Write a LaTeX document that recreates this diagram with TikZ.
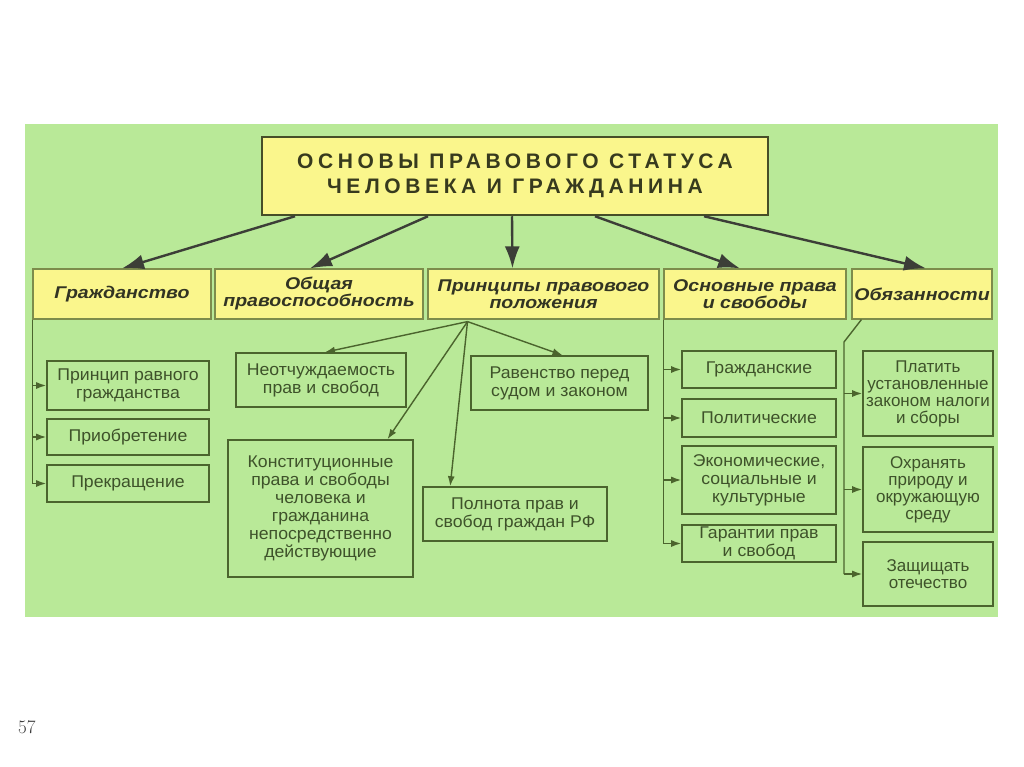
\documentclass[tikz,border=0pt]{standalone}
\usepackage{fontspec}
\setsansfont{Liberation Sans}
\newfontfamily\titlefont[LetterSpace=22]{Liberation Sans}
\newfontfamily\headfont[FakeStretch=1.15]{Liberation Sans}
\newfontfamily\itemfont[FakeStretch=1.04]{Liberation Sans}
\newfontfamily\dutyfont{Liberation Sans}
\usetikzlibrary{calc,arrows.meta}

\definecolor{bggreen}{RGB}{185,233,152}
\definecolor{boxyellow}{RGB}{250,246,140}
\definecolor{titleline}{RGB}{70,78,40}
\definecolor{titletext}{RGB}{55,58,30}
\definecolor{headline}{RGB}{125,140,75}
\definecolor{headtext}{RGB}{50,52,35}
\definecolor{itemline}{RGB}{75,100,45}
\definecolor{itemtext}{RGB}{62,82,42}
\definecolor{arrowdark}{RGB}{60,62,55}
\definecolor{pagegray}{RGB}{60,60,60}

\tikzset{
    titlebox/.style={draw=titleline, line width=2.5pt, fill=boxyellow, align=center, inner sep=0pt,
        text=titletext, font=\titlefont\bfseries\fontsize{21}{25}\selectfont},
    headbox/.style={draw=headline, line width=1.2pt, fill=boxyellow, align=center, inner sep=0pt,
        text=headtext, font=\headfont\bfseries\itshape\fontsize{17}{17}\selectfont},
    itembox/.style={draw=itemline, line width=1.6pt, align=center, inner sep=0pt,
        text=itemtext, font=\itemfont\fontsize{17}{18}\selectfont},
    dutybox/.style={itembox, font=\dutyfont\fontsize{17}{17}\selectfont},
    bigarrow/.style={draw=arrowdark, line width=2.4pt,
        -{Latex[length=22pt,width=15pt]}},
    smallline/.style={draw=itemline, line width=1.4pt},
    smallarrow/.style={smallline, -{Latex[length=10pt,width=7pt]}},
}

\begin{document}
\begin{tikzpicture}[x=1pt,y=-1pt]
    \fill[white] (0,0) rectangle (1024,767);
    \useasboundingbox (0,0) rectangle (1024,767);
    \fill[bggreen] (25,124) rectangle (998,617);

    % title
    \node[titlebox, minimum width=506pt, minimum height=78pt] (title) at (515,176)
        {ОСНОВЫ ПРАВОВОГО СТАТУСА\\ЧЕЛОВЕКА И ГРАЖДАНИНА};

    % second row
    \node[headbox, minimum width=178pt, minimum height=50pt] (grazh) at (122,294) {Гражданство};
    \node[headbox, minimum width=208pt, minimum height=50pt] (obsch) at (319,294) {Общая\\правоспособность};
    \node[headbox, minimum width=231pt, minimum height=50pt] (princ) at (543.5,294) {Принципы правового\\положения};
    \node[headbox, minimum width=182pt, minimum height=50pt] (osnov) at (755,294) {Основные права\\и свободы};
    \node[headbox, minimum width=140pt, minimum height=50pt] (obyaz) at (922,294) {Обязанности};

    \draw[bigarrow] ($(title.south)+(-220,0)$) -- (grazh.north);
    \draw[bigarrow] ($(title.south)+(-87,0)$) -- ($(obsch.north)+(-9,0)$);
    \draw[bigarrow] ($(title.south)+(-3,0)$) -- ($(princ.north)+(-31,0)$);
    \draw[bigarrow] ($(title.south)+(80,0)$) -- ($(osnov.north)+(-15,0)$);
    \draw[bigarrow] ($(title.south)+(189,0)$) -- ($(obyaz.north)+(4,0)$);

    % citizenship
    \node[itembox, minimum width=162pt, minimum height=49pt] (ravgr) at (128,385.5) {Принцип равного\\гражданства};
    \node[itembox, minimum width=162pt, minimum height=36pt] (priobr) at (128,437) {Приобретение};
    \node[itembox, minimum width=162pt, minimum height=37pt] (prekr) at (128,483.5) {Прекращение};

    \draw[smallline] (grazh.south west) -- (grazh.south west |- prekr.west);
    \foreach \n in {ravgr,priobr,prekr}
        \draw[smallarrow] (grazh.south west |- \n.west) -- (\n.west);

    % principles
    \node[itembox, minimum width=170pt, minimum height=54pt] (neot) at (321,380) {Неотчуждаемость\\прав и свобод};
    \node[itembox, minimum width=185pt, minimum height=137pt] (konst) at (320.5,508.5)
        {Конституционные\\права и свободы\\человека и\\гражданина\\непосредственно\\действующие};
    \node[itembox, minimum width=177pt, minimum height=54pt] (raven) at (559.5,383) {Равенство перед\\судом и законом};
    \node[itembox, minimum width=184pt, minimum height=54pt] (polnota) at (515,514) {Полнота прав и\\свобод граждан РФ};

    \coordinate (fan) at ($(princ.south)+(-76,2)$);
    \draw[smallarrow] (fan) -- ($(neot.north)+(4,0)$);
    \draw[smallarrow] (fan) -- ($(konst.north)+(67,0)$);
    \draw[smallarrow] (fan) -- ($(polnota.north west)+(28,0)$);
    \draw[smallarrow] (fan) -- ($(raven.north)+(3,0)$);

    % rights and freedoms
    \node[itembox, minimum width=154pt, minimum height=37pt] (civil) at (759,369.5) {Гражданские};
    \node[itembox, minimum width=154pt, minimum height=38pt] (polit) at (759,418) {Политические};
    \node[itembox, minimum width=154pt, minimum height=68pt] (ekon) at (759,480)
        {Экономические,\\социальные и\\культурные};
    \node[itembox, minimum width=154pt, minimum height=37pt] (garant) at (759,543.5) {Гарантии прав\\и свобод};

    \draw[smallline] (osnov.south west) -- (osnov.south west |- garant.west);
    \foreach \n in {civil,polit,ekon,garant}
        \draw[smallarrow] (osnov.south west |- \n.west) -- (\n.west);

    % duties
    \node[dutybox, minimum width=130pt, minimum height=85pt] (platit) at (928,393.5)
        {Платить\\установленные\\законом налоги\\и сборы};
    \node[dutybox, minimum width=130pt, minimum height=85pt] (ohran) at (928,489.5)
        {Охранять\\природу и\\окружающую\\среду};
    \node[dutybox, minimum width=130pt, minimum height=64pt] (zasch) at (928,574) {Защищать\\отечество};

    \coordinate (bend) at (844,342);
    \draw[smallline] ($(obyaz.south west)+(10,0)$) -- (bend) -- (bend |- zasch.west);
    \foreach \n in {platit,ohran,zasch}
        \draw[smallarrow] (bend |- \n.west) -- (\n.west);

    \node[anchor=base west, inner sep=0pt, text=pagegray, font=\rmfamily\fontsize{19}{19}\selectfont] (pagenum) at (18,733) {57};
\end{tikzpicture}
\end{document}
